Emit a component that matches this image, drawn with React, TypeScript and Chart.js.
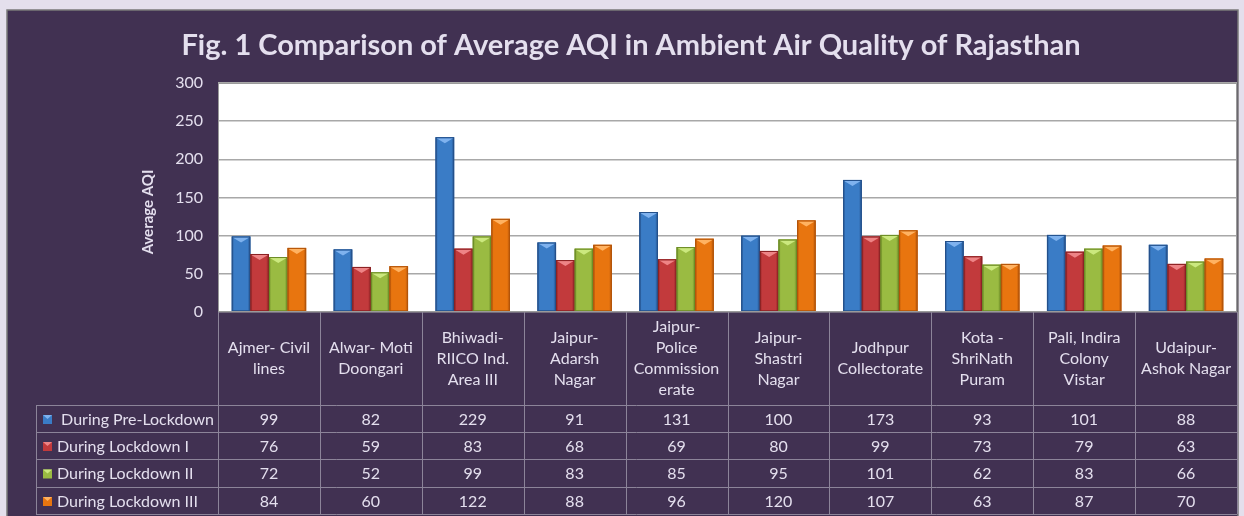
import React, { useEffect, useRef } from "react";
import { Chart, registerables } from "chart.js";
Chart.register(...registerables);

const categories: string[][] = [
  ["Ajmer- Civil", "lines"],
  ["Alwar- Moti", "Doongari"],
  ["Bhiwadi-", "RIICO Ind.", "Area III"],
  ["Jaipur-", "Adarsh", "Nagar"],
  ["Jaipur-", "Police", "Commission", "erate"],
  ["Jaipur-", "Shastri", "Nagar"],
  ["Jodhpur", "Collectorate"],
  ["Kota -", "ShriNath", "Puram"],
  ["Pali, Indira", "Colony", "Vistar"],
  ["Udaipur-", "Ashok Nagar"],
];
const seriesNames = [" During Pre-Lockdown", "During Lockdown I", "During Lockdown II", "During Lockdown III"];
const preLockdown = [99, 82, 229, 91, 131, 100, 173, 93, 101, 88];
const lockdown1 = [76, 59, 83, 68, 69, 80, 99, 73, 79, 63];
const lockdown2 = [72, 52, 99, 83, 85, 95, 101, 62, 83, 66];
const lockdown3 = [84, 60, 122, 88, 96, 120, 107, 63, 87, 70];
const yMin = 0;
const yMax = 300;
const yStep = 50;
const titleText = "Fig. 1 Comparison of Average AQI in Ambient Air Quality of Rajasthan";
const yAxisTitle = "Average AQI";

const seriesValues = [preLockdown, lockdown1, lockdown2, lockdown3];
const colors = ["#3a7cc6", "#c23a3c", "#9abb42", "#e8750f"];
const darkColors = ["#24508a", "#8a2224", "#6b8a26", "#b2540a"];
const lightColors = ["#7fb2ee", "#ee8486", "#cbe87e", "#ffb261"];

const FONT = "Lato, 'Open Sans', sans-serif";
const TEXT = "#e4dfee";
const LINE = "#8c8499";

const decorPlugin = {
  id: "decor",
  beforeDraw(chart: any) {
    const ctx = chart.ctx;
    const { width, height } = chart;
    ctx.save();
    ctx.fillStyle = "#e4dfec";
    ctx.fillRect(0, 0, width, height);
    ctx.fillStyle = "#413152";
    ctx.fillRect(7, 10, 1231, height);
    ctx.strokeStyle = "#7a7a7a";
    ctx.lineWidth = 1.5;
    ctx.strokeRect(7, 10, 1231, height + 10);
    const a = chart.chartArea;
    ctx.fillStyle = "#ffffff";
    ctx.fillRect(a.left, a.top, a.right - a.left, a.bottom - a.top);
    ctx.restore();
  },
  afterDatasetsDraw(chart: any) {
    const ctx = chart.ctx;
    ctx.save();
    chart.data.datasets.forEach((ds: any, di: number) => {
      const meta = chart.getDatasetMeta(di);
      meta.data.forEach((el: any) => {
        const l = el.x - el.width / 2;
        const r = el.x + el.width / 2;
        const t = el.y;
        const b = el.base;
        const g = ctx.createLinearGradient(l, 0, r, 0);
        g.addColorStop(0, darkColors[di]);
        g.addColorStop(0.12, colors[di]);
        g.addColorStop(0.4, colors[di]);
        g.addColorStop(0.85, colors[di]);
        g.addColorStop(1, darkColors[di]);
        ctx.fillStyle = g;
        ctx.fillRect(l, t, r - l, b - t);
        // top bevel
        ctx.fillStyle = lightColors[di];
        ctx.beginPath();
        ctx.moveTo(l + 1, t + 1);
        ctx.lineTo(r - 1, t + 1);
        ctx.lineTo(el.x, t + 6);
        ctx.closePath();
        ctx.fill();
        ctx.strokeStyle = darkColors[di];
        ctx.lineWidth = 1;
        ctx.strokeRect(l + 0.5, t + 0.5, r - l - 1, b - t - 1);
      });
    });
    ctx.restore();
  },
  afterDraw(chart: any) {
    const ctx = chart.ctx;
    const a = chart.chartArea;
    const xs = chart.scales.x;
    ctx.save();
    // plot border
    ctx.strokeStyle = "#9a9a9a";
    ctx.lineWidth = 1;
    ctx.strokeRect(a.left + 0.5, a.top + 0.5, a.right - a.left - 1, a.bottom - a.top - 1);

    // title
    ctx.fillStyle = TEXT;
    ctx.textAlign = "center";
    ctx.textBaseline = "middle";
    ctx.font = `bold 29px ${FONT}`;
    ctx.fillText(titleText, 631, 46);

    // y axis title
    ctx.save();
    ctx.translate(148, 212);
    ctx.rotate(-Math.PI / 2);
    ctx.font = `bold 15px ${FONT}`;
    ctx.fillText(yAxisTitle, 0, 0);
    ctx.restore();

    // table
    const n = categories.length;
    const colW = (a.right - a.left) / n;
    const headTop = a.bottom;
    const rowTops = [405, 432, 459, 487, 514];
    const tableLeft = 36;
    ctx.strokeStyle = LINE;
    ctx.lineWidth = 1;
    for (let i = 0; i <= n; i++) {
      const x = Math.round(a.left + i * colW) + 0.5;
      ctx.beginPath();
      ctx.moveTo(x, headTop);
      ctx.lineTo(x, rowTops[rowTops.length - 1]);
      ctx.stroke();
    }
    ctx.beginPath();
    ctx.moveTo(tableLeft + 0.5, rowTops[0]);
    ctx.lineTo(tableLeft + 0.5, rowTops[rowTops.length - 1]);
    ctx.stroke();
    rowTops.forEach((y) => {
      ctx.beginPath();
      ctx.moveTo(tableLeft, y + 0.5);
      ctx.lineTo(a.right, y + 0.5);
      ctx.stroke();
    });

    // header labels
    ctx.fillStyle = TEXT;
    ctx.font = `16px ${FONT}`;
    ctx.textAlign = "center";
    ctx.textBaseline = "middle";
    const headMid = (headTop + rowTops[0]) / 2;
    const lh = 21;
    categories.forEach((lines, i) => {
      const cx = xs.getPixelForValue(i);
      const y0 = headMid - ((lines.length - 1) * lh) / 2;
      lines.forEach((ln, k) => ctx.fillText(ln, cx, y0 + k * lh));
    });

    // data rows
    seriesValues.forEach((vals, si) => {
      const cy = (rowTops[si] + rowTops[si + 1]) / 2 + 1;
      vals.forEach((v, i) => {
        ctx.textAlign = "center";
        ctx.fillStyle = TEXT;
        ctx.fillText(String(v), xs.getPixelForValue(i), cy);
      });
      const mx = 43, ms = 9;
      const my = cy - ms / 2;
      ctx.fillStyle = colors[si];
      ctx.fillRect(mx, my, ms, ms);
      ctx.fillStyle = lightColors[si];
      ctx.beginPath();
      ctx.moveTo(mx, my);
      ctx.lineTo(mx + ms, my);
      ctx.lineTo(mx + ms / 2, my + 4);
      ctx.closePath();
      ctx.fill();
      ctx.textAlign = "left";
      ctx.fillStyle = TEXT;
      ctx.fillText(seriesNames[si], 57, cy);
    });
    ctx.restore();
  },
};

export default function App() {
  const ref = useRef<HTMLCanvasElement>(null);
  useEffect(() => {
    document.body.style.margin = "0";
    document.body.style.overflow = "hidden";
    const chart = new Chart(ref.current!, {
      type: "bar",
      data: {
        labels: categories,
        datasets: seriesValues.map((vals, i) => ({
          label: seriesNames[i].trim(),
          data: vals,
          backgroundColor: colors[i],
          borderWidth: 0,
          categoryPercentage: 0.73,
          barPercentage: 1.0,
        })),
      },
      options: {
        animation: false,
        responsive: false,
        layout: { padding: { top: 83, right: 7, bottom: 204, left: 0 } },
        plugins: { legend: { display: false }, tooltip: { enabled: false }, title: { display: false } },
        scales: {
          x: { display: false },
          y: {
            min: yMin,
            max: yMax,
            ticks: { stepSize: yStep, color: TEXT, padding: 15, font: { family: FONT, size: 16 } },
            grid: { color: "#a8a8a8", lineWidth: 1.5, drawTicks: false },
            border: { display: false },
            afterFit(scale: any) {
              scale.width = 218;
            },
          },
        },
      },
      plugins: [decorPlugin],
    });
    return () => chart.destroy();
  }, []);
  return <canvas ref={ref} width={1244} height={516} style={{ display: "block" }} />;
}
